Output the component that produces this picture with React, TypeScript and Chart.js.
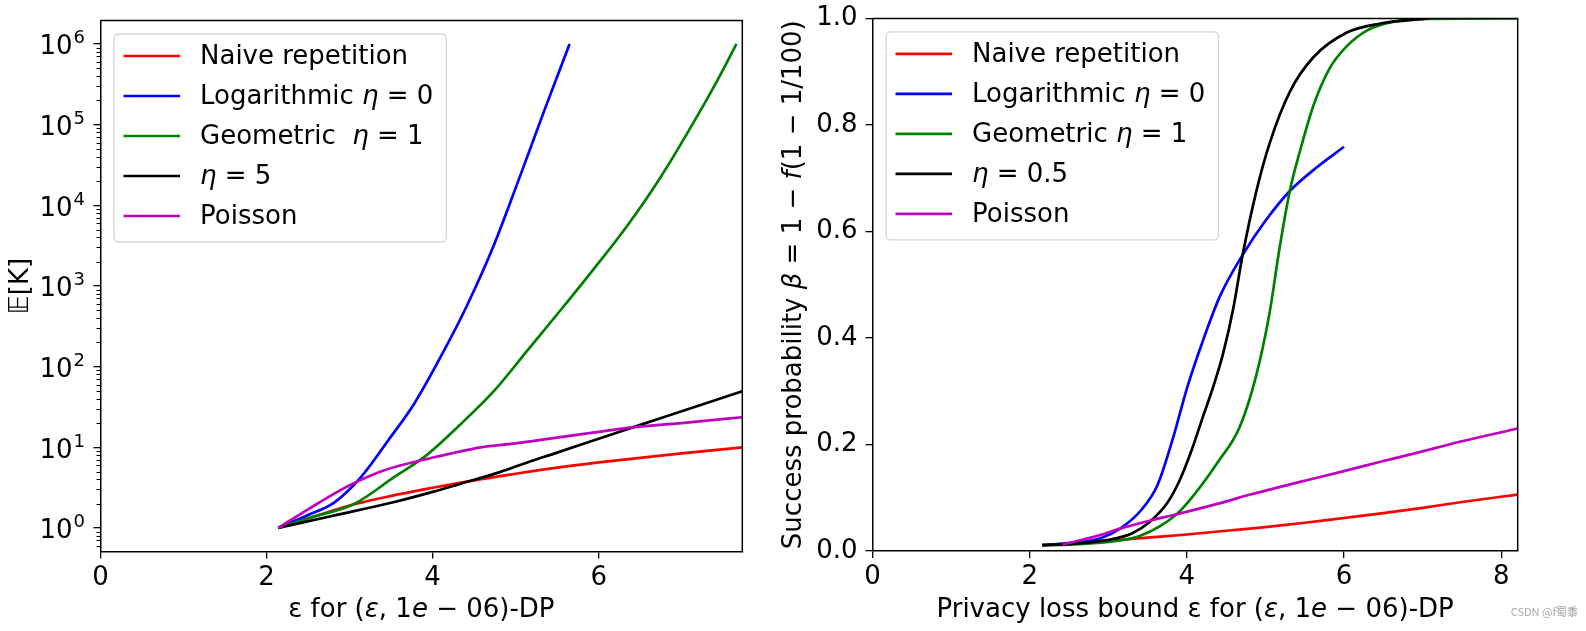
import React, { useEffect, useRef } from "react";
import { Chart, registerables } from "chart.js";

Chart.register(...registerables);

const FONT = '"DejaVu Sans", "Noto Sans", sans-serif';
const FS = 26;
const SUP = 18;

// ---------- Left panel data: E[K] (log scale) ----------
const leftXTicks = [0, 2, 4, 6];
const leftYTicks = [1, 10, 100, 1000, 10000, 100000, 1000000];
const leftXMax = 7.73;
const leftYMin = 0.511;
const leftYMax = 1.955e6;
const leftLabels = ["Naive repetition", "Logarithmic $η$ = 0", "Geometric  $η$ = 1", "$η$ = 5", "Poisson"];

const naiveLX = [2.14, 2.5, 3.0, 3.5, 4.0, 4.5, 5.0, 5.5, 6.0, 6.5, 7.0, 7.73];
const naiveLY = [1, 1.31, 1.9, 2.5, 3.15, 3.9, 4.7, 5.6, 6.5, 7.4, 8.4, 10];
const logLX = [2.14, 2.5, 2.81, 3.14, 3.46, 3.78, 4.14, 4.42, 4.74, 5.06, 5.34, 5.65];
const logLY = [1, 1.45, 2.05, 4.3, 12, 35, 160, 590, 3250, 24000, 145000, 1000000];
const geoLX = [2.14, 2.5, 3.06, 3.54, 3.9, 4.34, 4.74, 5.14, 5.54, 5.94, 6.34, 6.74, 7.14, 7.44, 7.66];
const geoLY = [1, 1.32, 2.0, 4.3, 7.6, 19.5, 50, 158, 500, 1620, 5500, 21800, 105000, 370000, 1000000];
const etaLX = [2.14, 2.8, 3.54, 4.0, 4.34, 4.82, 5.14, 5.5, 6.0, 6.42, 7.0, 7.73];
const etaLY = [1, 1.42, 2.1, 2.8, 3.55, 4.96, 6.5, 8.6, 12.8, 17.8, 28, 49.5];
const poiLX = [2.14, 2.5, 2.89, 3.1, 3.42, 3.86, 4.2, 4.58, 5.0, 5.54, 6.0, 6.42, 7.0, 7.73];
const poiLY = [1, 1.7, 2.95, 3.8, 5.2, 6.9, 8.3, 10, 11.2, 13.4, 15.5, 17.8, 20, 23.6];

// ---------- Right panel data: success probability ----------
const rightXTicks = [0, 2, 4, 6, 8];
const rightYTicks = [0, 0.2, 0.4, 0.6, 0.8, 1.0];
const rightXMax = 8.21;
const rightLabels = ["Naive repetition", "Logarithmic $η$ = 0", "Geometric $η$ = 1", "$η$ = 0.5", "Poisson"];

const naiveRX = [2.16, 2.5, 3.0, 3.5, 4.0, 4.5, 5.0, 5.5, 6.0, 6.5, 7.0, 7.5, 8.21];
const naiveRY = [0.011, 0.014, 0.019, 0.025, 0.031, 0.038, 0.045, 0.053, 0.062, 0.071, 0.081, 0.092, 0.106];
const logRX = [2.16, 2.5, 2.9, 3.15, 3.42, 3.63, 3.83, 4.0, 4.2, 4.42, 4.71, 5.0, 5.31, 5.65, 6.0];
const logRY = [0.011, 0.015, 0.024, 0.042, 0.077, 0.125, 0.215, 0.305, 0.393, 0.478, 0.556, 0.62, 0.676, 0.72, 0.759];
const geoRX = [2.16, 2.5, 3.0, 3.4, 3.87, 4.1, 4.4, 4.67, 4.88, 5.05, 5.18, 5.31, 5.44, 5.61, 5.82, 6.03, 6.3, 6.6, 7.0, 8.21];
const geoRY = [0.011, 0.012, 0.017, 0.028, 0.069, 0.107, 0.168, 0.232, 0.328, 0.445, 0.569, 0.676, 0.751, 0.836, 0.907, 0.947, 0.978, 0.993, 0.999, 1.0];
const etaRX = [2.16, 2.5, 3.0, 3.3, 3.53, 3.75, 3.9, 4.05, 4.2, 4.35, 4.46, 4.59, 4.71, 4.88, 5.05, 5.31, 5.61, 6.03, 6.45, 7.08];
const etaRY = [0.011, 0.013, 0.021, 0.033, 0.055, 0.09, 0.13, 0.185, 0.25, 0.315, 0.37, 0.455, 0.556, 0.673, 0.764, 0.862, 0.927, 0.973, 0.99, 1.0];
const poiRX = [2.42, 2.9, 3.15, 3.53, 3.87, 4.4, 4.81, 5.5, 6.0, 6.45, 7.0, 7.5, 8.21];
const poiRY = [0.012, 0.03, 0.042, 0.057, 0.069, 0.089, 0.106, 0.132, 0.15, 0.167, 0.187, 0.206, 0.23];

const seriesColors = ["#ff0000", "#0000ff", "#008000", "#000000", "#bf00bf"];

const zip = (xs: number[], ys: number[]) => xs.map((x, i) => ({ x, y: ys[i] }));

type Seg = { t: string; it: boolean };
function parseRich(s: string): Seg[] {
  return s
    .split("$")
    .map((t, i) => ({ t, it: i % 2 === 1 }))
    .filter((p) => p.t.length > 0);
}
function setFont(ctx: CanvasRenderingContext2D, it: boolean, size: number) {
  ctx.font = (it ? "italic " : "") + size + "px " + FONT;
}
function richWidth(ctx: CanvasRenderingContext2D, s: string, size: number) {
  let w = 0;
  for (const seg of parseRich(s)) {
    setFont(ctx, seg.it, size);
    w += ctx.measureText(seg.t).width;
  }
  return w;
}
function drawRich(ctx: CanvasRenderingContext2D, s: string, x: number, y: number, size: number, center: boolean) {
  let cx = center ? x - richWidth(ctx, s, size) / 2 : x;
  ctx.textAlign = "left";
  for (const seg of parseRich(s)) {
    setFont(ctx, seg.it, size);
    ctx.fillText(seg.t, cx, y);
    cx += ctx.measureText(seg.t).width;
  }
}

type Decor = {
  labels: string[];
  xTitle: string;
  yTitle: string;
  yTitleX: number;
  xTitleY: number;
  log: boolean;
};

function decorPlugin(o: Decor) {
  return {
    id: "decor",
    afterDraw(chart: any) {
      const ctx: CanvasRenderingContext2D = chart.ctx;
      const ca = chart.chartArea;
      const ys = chart.scales.y;
      ctx.save();
      // top and right spines
      ctx.strokeStyle = "#000";
      ctx.lineWidth = 1.5;
      ctx.beginPath();
      ctx.moveTo(ca.left, ca.top);
      ctx.lineTo(ca.right, ca.top);
      ctx.lineTo(ca.right, ca.bottom);
      ctx.stroke();

      if (o.log) {
        // minor ticks
        ctx.lineWidth = 1;
        for (let k = -1; k <= 6; k++) {
          for (let m = 2; m <= 9; m++) {
            const v = m * Math.pow(10, k);
            if (v < ys.min || v > ys.max) continue;
            const p = Math.round(ys.getPixelForValue(v)) + 0.5;
            ctx.beginPath();
            ctx.moveTo(ca.left - 4, p);
            ctx.lineTo(ca.left, p);
            ctx.stroke();
          }
        }
        // major labels 10^k
        ctx.fillStyle = "#000";
        ctx.textBaseline = "alphabetic";
        ctx.textAlign = "left";
        for (const t of ys.ticks) {
          const v = t.value;
          const p = ys.getPixelForValue(v);
          const e = String(Math.round(Math.log10(v)));
          setFont(ctx, false, FS);
          const w1 = ctx.measureText("10").width;
          setFont(ctx, false, SUP);
          const w2 = ctx.measureText(e).width;
          const right = ca.left - 15.5;
          const x0 = right - w1 - w2 - 1;
          setFont(ctx, false, FS);
          ctx.fillText("10", x0, p + 10.5);
          setFont(ctx, false, SUP);
          ctx.fillText(e, x0 + w1 + 1, p - 0.5);
        }
      }

      // legend
      const bx = ca.left + 13.5;
      const by = ca.top + 13.5;
      let maxW = 0;
      for (const l of o.labels) maxW = Math.max(maxW, richWidth(ctx, l, FS));
      const textX = bx + 86;
      const bw = textX - bx + maxW + 13;
      const bh = 208;
      const r = 5;
      ctx.beginPath();
      ctx.moveTo(bx + r, by);
      ctx.lineTo(bx + bw - r, by);
      ctx.quadraticCurveTo(bx + bw, by, bx + bw, by + r);
      ctx.lineTo(bx + bw, by + bh - r);
      ctx.quadraticCurveTo(bx + bw, by + bh, bx + bw - r, by + bh);
      ctx.lineTo(bx + r, by + bh);
      ctx.quadraticCurveTo(bx, by + bh, bx, by + bh - r);
      ctx.lineTo(bx, by + r);
      ctx.quadraticCurveTo(bx, by, bx + r, by);
      ctx.closePath();
      ctx.fillStyle = "rgba(255,255,255,0.8)";
      ctx.fill();
      ctx.strokeStyle = "#d5d5d5";
      ctx.lineWidth = 1.3;
      ctx.stroke();
      chart.data.datasets.forEach((ds: any, i: number) => {
        const ry = by + 22 + i * 40;
        ctx.strokeStyle = ds.borderColor;
        ctx.lineWidth = 2.7;
        ctx.beginPath();
        ctx.moveTo(bx + 9.5, ry);
        ctx.lineTo(bx + 66, ry);
        ctx.stroke();
        ctx.fillStyle = "#000";
        ctx.textBaseline = "middle";
        drawRich(ctx, o.labels[i], textX, ry + 1, FS, false);
      });

      // axis titles
      ctx.fillStyle = "#000";
      ctx.textBaseline = "alphabetic";
      drawRich(ctx, o.xTitle, (ca.left + ca.right) / 2, o.xTitleY, FS, true);
      ctx.translate(o.yTitleX, (ca.top + ca.bottom) / 2);
      ctx.rotate(-Math.PI / 2);
      drawRich(ctx, o.yTitle, 0, 0, FS, true);
      ctx.restore();
    },
  };
}

const gridOpts = { display: true, drawOnChartArea: false, drawTicks: true, tickLength: 7, color: "#000", lineWidth: 1.3 };
const borderOpts = { display: true, color: "#000", width: 1.5 };
const tickFont = { family: FONT, size: FS };

function makeDatasets(series: { x: number[]; y: number[] }[], labels: string[]) {
  return series.map((s, i) => ({
    label: labels[i],
    data: zip(s.x, s.y),
    borderColor: seriesColors[i],
    backgroundColor: seriesColors[i],
    borderWidth: 2.7,
    pointRadius: 0,
    fill: false,
    cubicInterpolationMode: "monotone" as const,
    order: 10 - i,
  }));
}

function leftConfig(W: number, H: number): any {
  const top = 20.5, bottom = 551.5, left = 100.5, right = 742.3;
  return {
    type: "line",
    data: {
      datasets: makeDatasets(
        [
          { x: naiveLX, y: naiveLY },
          { x: logLX, y: logLY },
          { x: geoLX, y: geoLY },
          { x: etaLX, y: etaLY },
          { x: poiLX, y: poiLY },
        ],
        leftLabels
      ),
    },
    options: {
      animation: false,
      responsive: false,
      events: [],
      layout: { padding: { top, right: W - right, bottom: 0, left: 0 } },
      plugins: { legend: { display: false }, tooltip: { enabled: false } },
      scales: {
        x: {
          type: "linear",
          min: 0,
          max: leftXMax,
          afterBuildTicks: (s: any) => {
            s.ticks = leftXTicks.map((v) => ({ value: v }));
          },
          afterFit: (s: any) => {
            s.height = H - bottom;
          },
          grid: gridOpts,
          border: borderOpts,
          ticks: { color: "#000", font: tickFont, padding: 4, maxRotation: 0, autoSkip: false },
        },
        y: {
          type: "logarithmic",
          min: leftYMin,
          max: leftYMax,
          afterBuildTicks: (s: any) => {
            s.ticks = leftYTicks.map((v) => ({ value: v, major: true }));
          },
          afterFit: (s: any) => {
            s.width = left;
          },
          grid: gridOpts,
          border: borderOpts,
          ticks: { display: false },
        },
      },
    },
    plugins: [
      decorPlugin({
        labels: leftLabels,
        xTitle: "ε for ($ε$, 1$e$ − 06)-DP",
        yTitle: "𝔼[K]",
        yTitleX: 28.2,
        xTitleY: 617,
        log: true,
      }),
    ],
  };
}

function rightConfig(W: number, H: number): any {
  const top = 15.5, bottom = 551, left = 102.5, right = 747.7;
  return {
    type: "line",
    data: {
      datasets: makeDatasets(
        [
          { x: naiveRX, y: naiveRY },
          { x: logRX, y: logRY },
          { x: geoRX, y: geoRY },
          { x: etaRX, y: etaRY },
          { x: poiRX, y: poiRY },
        ],
        rightLabels
      ),
    },
    options: {
      animation: false,
      responsive: false,
      events: [],
      layout: { padding: { top, right: W - right, bottom: 0, left: 0 } },
      plugins: { legend: { display: false }, tooltip: { enabled: false } },
      scales: {
        x: {
          type: "linear",
          min: 0,
          max: rightXMax,
          afterBuildTicks: (s: any) => {
            s.ticks = rightXTicks.map((v) => ({ value: v }));
          },
          afterFit: (s: any) => {
            s.height = H - bottom;
          },
          grid: gridOpts,
          border: borderOpts,
          ticks: { color: "#000", font: tickFont, padding: 4, maxRotation: 0, autoSkip: false },
        },
        y: {
          type: "linear",
          min: 0,
          max: 1,
          afterBuildTicks: (s: any) => {
            s.ticks = rightYTicks.map((v) => ({ value: v }));
          },
          afterFit: (s: any) => {
            s.width = left;
          },
          grid: gridOpts,
          border: borderOpts,
          ticks: {
            color: "#000",
            font: { family: FONT, size: FS, lineHeight: 0.8 },
            padding: 8,
            callback: (v: any) => Number(v).toFixed(1),
          },
        },
      },
    },
    plugins: [
      decorPlugin({
        labels: rightLabels,
        xTitle: "Privacy loss bound ε for ($ε$, 1$e$ − 06)-DP",
        yTitle: "Success probability $β$ = 1 − $f$(1 − 1/100)",
        yTitleX: 30.5,
        xTitleY: 617,
        log: false,
      }),
    ],
  };
}

function Panel({ left, width, height, build }: { left: number; width: number; height: number; build: (w: number, h: number) => any }) {
  const ref = useRef<HTMLCanvasElement>(null);
  useEffect(() => {
    const chart = new Chart(ref.current as HTMLCanvasElement, build(width, height));
    return () => chart.destroy();
  }, []);
  return (
    <div style={{ position: "absolute", left, top: 0, width, height }}>
      <canvas ref={ref} width={width} height={height} style={{ width, height, display: "block" }} />
    </div>
  );
}

export default function App() {
  return (
    <div style={{ position: "fixed", left: 0, top: 0, width: 1586, height: 631, background: "#fff" }}>
      <Panel left={0} width={770} height={631} build={leftConfig} />
      <Panel left={770} width={816} height={631} build={rightConfig} />
      <div
        style={{
          position: "absolute",
          right: 8,
          bottom: 12,
          font: '11px "Noto Sans CJK SC", "DejaVu Sans", sans-serif',
          color: "#aaa",
        }}
      >
        CSDN @f蜀黍
      </div>
    </div>
  );
}
